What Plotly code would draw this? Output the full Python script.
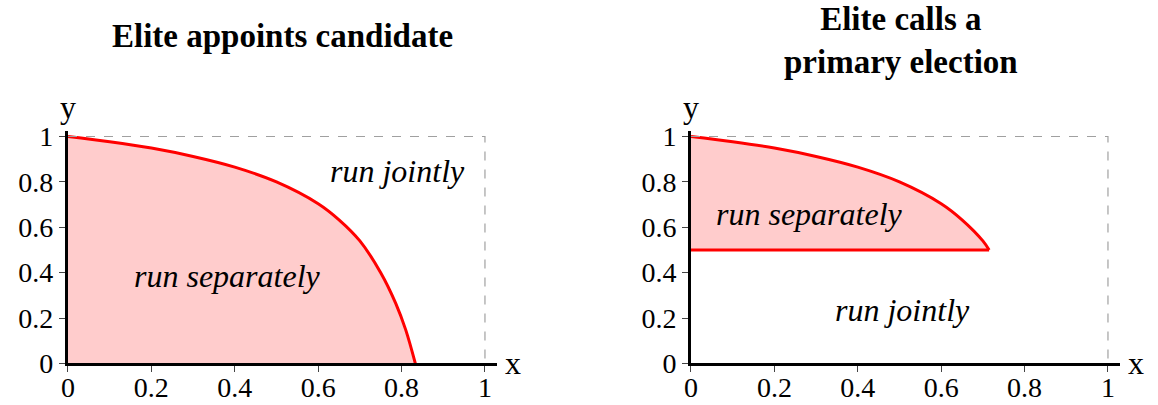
import plotly.graph_objects as go

# boundary curve (x -> y)
curve_x = [0, 0.1, 0.2, 0.3, 0.4, 0.5, 0.6, 0.65, 0.70, 0.75, 0.786, 0.81, 0.833]
curve_y = [1, 0.977, 0.949, 0.912, 0.865, 0.80, 0.704, 0.633, 0.54, 0.40, 0.265, 0.148, 0]

# right panel: same curve, cut at the primary threshold
primary_x = [0, 0.1, 0.2, 0.3, 0.4, 0.5, 0.6, 0.65, 0.70, 0.715]
primary_y = [1, 0.977, 0.949, 0.912, 0.865, 0.80, 0.704, 0.633, 0.54, 0.5]
threshold = 0.5

box_x = [0, 1, 1]
box_y = [1, 1, 0]

titles = ["<b>Elite appoints candidate</b>", "<b>Elite calls a<br>primary election</b>"]
labels_left = [("run jointly", 0.79, 0.846), ("run separately", 0.382, 0.387)]
labels_right = [("run separately", 0.285, 0.66), ("run jointly", 0.507, 0.236)]

RED = "rgb(255,0,0)"
FILL = "rgb(255,204,204)"
FONT = "Liberation Serif"

fig = go.Figure()

# left panel
fig.add_trace(go.Scatter(x=curve_x, y=curve_y, mode="lines", fill="tozeroy",
                         fillcolor=FILL, line=dict(color=RED, width=3, shape="spline", smoothing=1.0),
                         xaxis="x", yaxis="y", cliponaxis=False))
fig.add_trace(go.Scatter(x=box_x, y=box_y, mode="lines",
                         line=dict(color="#a0a0a0", width=1.2, dash="dash"),
                         xaxis="x", yaxis="y"))

# right panel: curve on top, flat threshold line below
fig.add_trace(go.Scatter(x=primary_x, y=primary_y, mode="lines", fill="none",
                         line=dict(color=RED, width=3, shape="spline", smoothing=1.0),
                         xaxis="x2", yaxis="y2", cliponaxis=False))
fig.add_trace(go.Scatter(x=[0, primary_x[-1]], y=[threshold, threshold], mode="lines",
                         fill="tonexty", fillcolor=FILL,
                         line=dict(color=RED, width=3),
                         xaxis="x2", yaxis="y2", cliponaxis=False))
fig.add_trace(go.Scatter(x=box_x, y=box_y, mode="lines",
                         line=dict(color="#a0a0a0", width=1.2, dash="dash"),
                         xaxis="x2", yaxis="y2"))

axis_common = dict(
    showgrid=False, zeroline=False, showline=True, linecolor="black", linewidth=3,
    ticks="outside", ticklen=6, tickwidth=1, tickcolor="#444",
    tickfont=dict(family=FONT, size=28, color="black"),
    dtick=0.2, tick0=0, automargin=False, fixedrange=True,
)

fig.update_layout(
    width=1158, height=405,
    margin=dict(l=0, r=0, t=0, b=0),
    paper_bgcolor="white", plot_bgcolor="white",
    showlegend=False,
    xaxis=dict(domain=[0.0587, 0.4296], range=[0, 1.03], anchor="y",
               ticklabelstandoff=-9, **axis_common),
    yaxis=dict(domain=[0.1025, 0.677], range=[0, 1.025], anchor="x", **axis_common),
    xaxis2=dict(domain=[0.5967, 0.9676], range=[0, 1.03], anchor="y2",
                ticklabelstandoff=-9, **axis_common),
    yaxis2=dict(domain=[0.1025, 0.677], range=[0, 1.025], anchor="x2", **axis_common),
)

ann = []
for txt, x, y in labels_left:
    ann.append(dict(text="<i>%s</i>" % txt, x=x, y=y, xref="x", yref="y",
                    showarrow=False, font=dict(family=FONT, size=32, color="black")))
for txt, x, y in labels_right:
    ann.append(dict(text="<i>%s</i>" % txt, x=x, y=y, xref="x2", yref="y2",
                    showarrow=False, font=dict(family=FONT, size=32, color="black")))

for xr, yr in [("x", "y"), ("x2", "y2")]:
    ann.append(dict(text="x", x=1, y=0, xref=xr + " domain", yref=yr,
                    xanchor="left", yanchor="middle", xshift=6, showarrow=False,
                    font=dict(family=FONT, size=32, color="black")))
    ann.append(dict(text="y", x=0, y=1, xref=xr, yref=yr + " domain",
                    xanchor="center", yanchor="bottom", yshift=4, showarrow=False,
                    font=dict(family=FONT, size=32, color="black")))

ann.append(dict(text=titles[0], x=282 / 1158, y=(405 - 36) / 405, xref="paper", yref="paper",
                showarrow=False, xanchor="center", yanchor="middle",
                font=dict(family=FONT, size=33, color="black")))
ann.append(dict(text=titles[1], x=901 / 1158, y=(405 - 40) / 405, xref="paper", yref="paper",
                showarrow=False, xanchor="center", yanchor="middle",
                font=dict(family=FONT, size=33, color="black")))

fig.update_layout(annotations=ann)

fig.write_html("out.html", config={"displayModeBar": False},
               post_script="document.body.style.margin='0';")
